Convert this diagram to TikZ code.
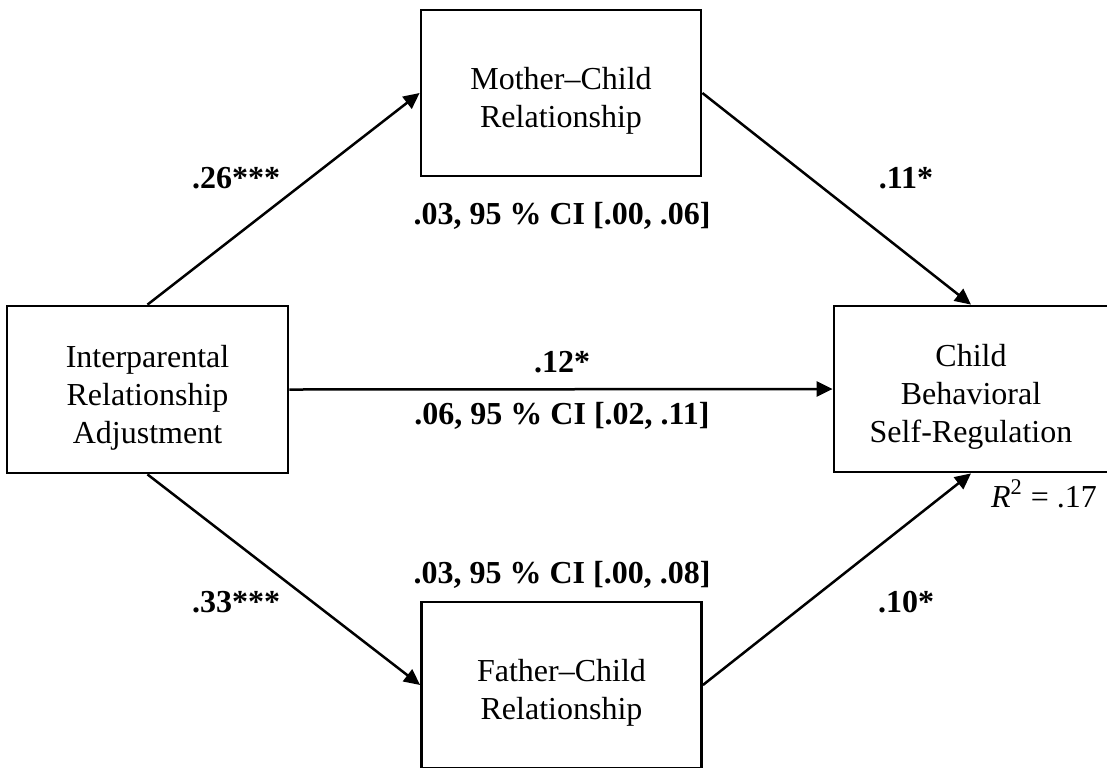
\documentclass[tikz,border=0pt]{standalone}
\usepackage{fontspec}
\setmainfont{Liberation Serif}
\usetikzlibrary{positioning, arrows.meta}

\newcommand{\topgap}{\rule{0pt}{19pt}}

\begin{document}
\begin{tikzpicture}[
    x=0.5pt, y=-0.5pt,
    block/.style={rectangle, draw=black, line width=1.4pt, minimum width=140pt,
                  minimum height=83pt, align=center, font=\fontsize{16}{19}\selectfont},
    arrow/.style={-{Triangle[length=8pt, width=7.5pt]}, line width=1.25pt},
    coef/.style={anchor=base, font=\fontsize{16}{19}\selectfont\bfseries},
    label/.style={anchor=base, font=\fontsize{16}{19}\selectfont}
]
    \clip (0, 0) rectangle (1107, 767);

    % Predictor
    \node[block, minimum width=140.5pt, minimum height=83.5pt] (ipra) at (147.5, 389.5)
        {\topgap Interparental\\Relationship\\Adjustment};

    % Mediators
    \node[block] (mcr) at (561, 93) {\topgap Mother–Child\\Relationship};
    \node[block] (fcr) at (561.5, 685) {\topgap Father–Child\\Relationship};

    % Outcome
    \node[block, minimum width=137pt] (cbsr) at (971, 389)
        {\topgap Child\\Behavioral\\Self-Regulation};

    % Paths
    \draw[arrow] (ipra.north) -- (mcr.west);
    \draw[arrow] (ipra.south) -- (fcr.west);
    \draw[arrow] (ipra.east) -- (cbsr.west);
    \draw[arrow] (mcr.east) -- (cbsr.north);
    \draw[arrow] (fcr.east) -- (cbsr.south);

    % Coefficients
    \node[coef] (a1) at (236, 188) {.26***};
    \node[coef] (b1) at (906, 188) {.11*};
    \node[coef] (ind1) at (562, 224) {.03, 95 \% CI [.00, .06]};
    \node[coef] (c) at (562, 372) {.12*};
    \node[coef] (indt) at (562, 424) {.06, 95 \% CI [.02, .11]};
    \node[coef] (ind2) at (562, 583) {.03, 95 \% CI [.00, .08]};
    \node[coef] (a2) at (236, 612) {.33***};
    \node[coef] (b2) at (906, 612) {.10*};

    % Explained variance
    \node[label] (rsq) at (1044, 507) {\textit{R}\textsuperscript{2} = .17};

\end{tikzpicture}
\end{document}
